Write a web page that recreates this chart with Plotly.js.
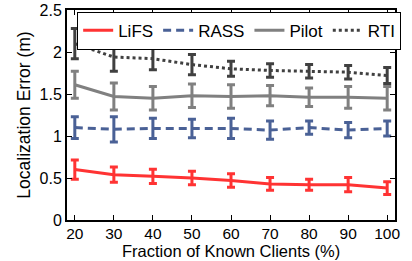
<!DOCTYPE html>
<html>
<head>
<meta charset="utf-8">
<script src="https://cdn.plot.ly/plotly-3.0.1.min.js"></script>
<style>html,body{margin:0;padding:0;background:#fff;}#chart{width:412px;height:261px;}</style>
</head>
<body>
<div id="chart"></div>
<script>
const fractions = [20, 30, 40, 50, 60, 70, 80, 90, 100];
const lifsMean  = [0.60, 0.54, 0.52, 0.50, 0.47, 0.43, 0.42, 0.42, 0.38];
const lifsErr   = [0.115, 0.09, 0.085, 0.08, 0.08, 0.075, 0.065, 0.085, 0.075];
const rassMean  = [1.10, 1.08, 1.09, 1.09, 1.09, 1.07, 1.10, 1.07, 1.09];
const rassErr   = [0.13, 0.15, 0.12, 0.11, 0.12, 0.11, 0.08, 0.09, 0.09];
const pilotMean = [1.61, 1.47, 1.45, 1.48, 1.47, 1.48, 1.46, 1.46, 1.45];
const pilotErr  = [0.16, 0.16, 0.14, 0.14, 0.14, 0.12, 0.11, 0.13, 0.14];
const rtiMean   = [2.10, 1.94, 1.92, 1.85, 1.80, 1.78, 1.77, 1.76, 1.72];
const rtiErr    = [0.18, 0.17, 0.13, 0.12, 0.09, 0.08, 0.08, 0.08, 0.095];
const seriesNames = ['LiFS', 'RASS', 'Pilot', 'RTI'];
const yTicks = [0, 0.5, 1, 1.5, 2, 2.5];
const yTickText = ['0', '0.5', '1', '1.5', '2', '2.5'];
const xTicks = [20, 30, 40, 50, 60, 70, 80, 90, 100];
const xTitle = 'Fraction of Known Clients (%)';
const yTitle = 'Localization Error (m)';

function mk(name, y, err, color, dash) {
  return {
    x: fractions, y: y, name: name, type: 'scatter', mode: 'lines',
    line: {color: color, width: 3, dash: dash},
    error_y: {type: 'data', array: err, visible: true, color: color, thickness: 3, width: 4}
  };
}
const data = [
  mk(seriesNames[0], lifsMean, lifsErr, '#ff3333', 'solid'),
  mk(seriesNames[1], rassMean, rassErr, '#4a6196', '8px,5px'),
  mk(seriesNames[2], pilotMean, pilotErr, '#808080', 'solid'),
  mk(seriesNames[3], rtiMean, rtiErr, '#404040', '3px,3px')
];
const font = {family: '"Liberation Sans", Arial, sans-serif', color: '#000'};
const layout = {
  width: 412, height: 261,
  margin: {l: 67, r: 17, t: 10, b: 41},
  paper_bgcolor: '#fff', plot_bgcolor: '#fff',
  font: Object.assign({size: 16}, font),
  showlegend: true,
  legend: {
    orientation: 'h', x: 0.031, y: 0.992, xanchor: 'left', yanchor: 'top',
    bgcolor: '#fff', bordercolor: '#000', borderwidth: 1,
    font: Object.assign({size: 17}, font), itemwidth: 30, tracegroupgap: 0
  },
  xaxis: {
    range: [18, 102], tickvals: xTicks, ticks: 'inside', ticklen: 5, tickwidth: 1,
    tickcolor: '#000', showline: true, linecolor: '#000', linewidth: 2, mirror: 'ticks',
    showgrid: false, zeroline: false, tickfont: Object.assign({size: 15.5}, font),
    ticklabelstandoff: -2
  },
  yaxis: {
    range: [0, 2.5], tickvals: yTicks, ticktext: yTickText, ticks: 'inside', ticklen: 5, tickwidth: 1,
    tickcolor: '#000', showline: true, linecolor: '#000', linewidth: 2, mirror: 'ticks',
    showgrid: false, zeroline: false, tickfont: Object.assign({size: 16}, font),
    title: {text: yTitle, font: Object.assign({size: 17.5}, font), standoff: 4}
  },
  annotations: [{
    text: xTitle, xref: 'paper', yref: 'paper', x: 0.5, y: -0.093,
    xanchor: 'center', yanchor: 'top', showarrow: false,
    font: Object.assign({size: 16.5}, font)
  }]
};
Plotly.newPlot('chart', data, layout, {displayModeBar: false, staticPlot: true});
</script>
</body>
</html>
